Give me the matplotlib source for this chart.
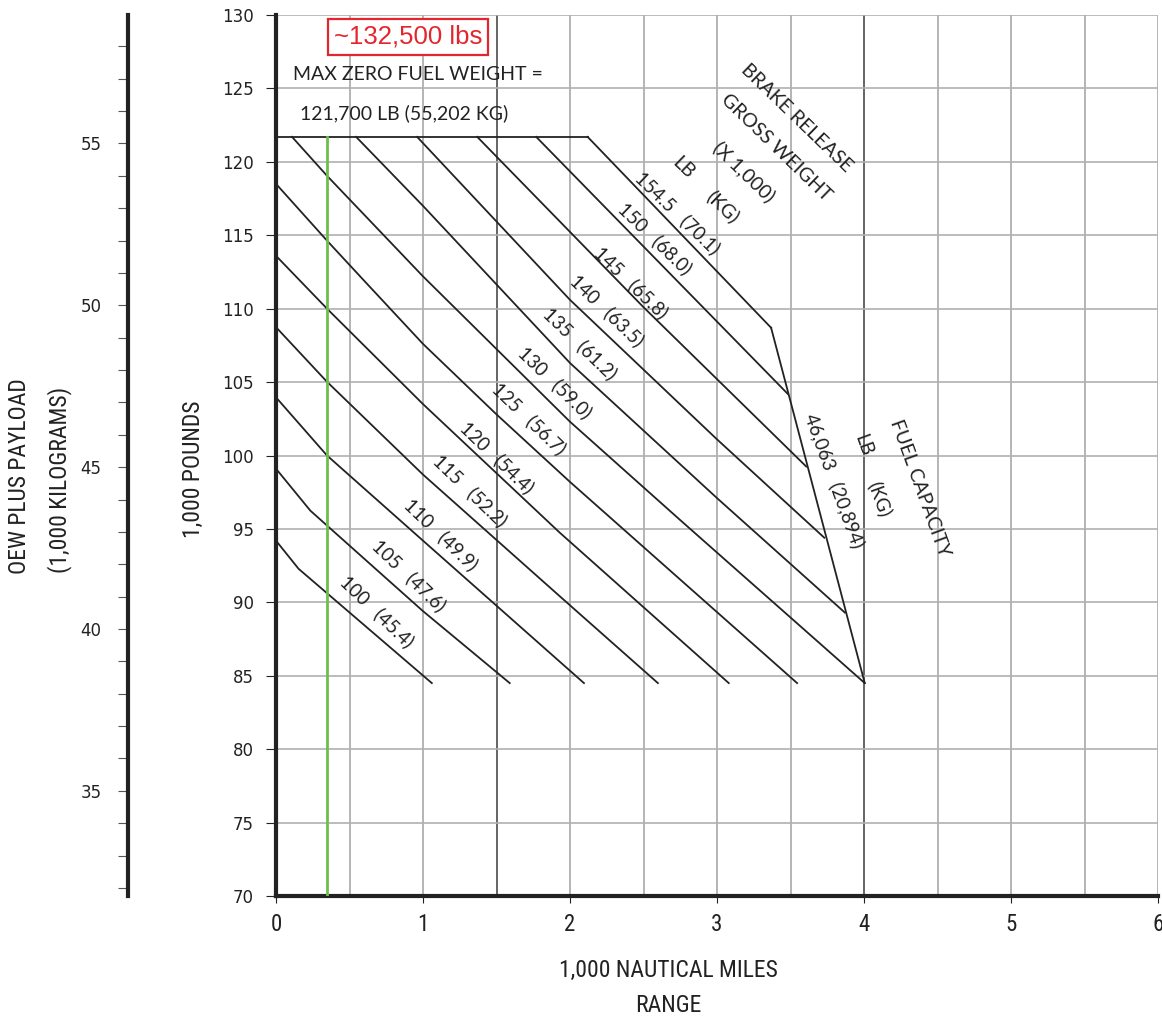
import matplotlib
matplotlib.use("Agg")
import matplotlib.pyplot as plt
from matplotlib import font_manager
from matplotlib.ticker import MultipleLocator

# brake release gross weight lines, 1,000 lb and (1,000 kg)
gw_lb = ["154.5", "150", "145", "140", "135", "130", "125", "120", "115", "110", "105", "100"]
gw_kg = ["(70.1)", "(68.0)", "(65.8)", "(63.5)", "(61.2)", "(59.0)", "(56.7)", "(54.4)",
         "(52.2)", "(49.9)", "(47.6)", "(45.4)"]

# points: range (1,000 nm) / OEW + payload (1,000 lb)
line_x = [
    [2.12, 3.368],
    [1.77, 3.481],
    [1.369, 2.5, 3.607],
    [0.96, 2.0, 3.0, 3.73],
    [0.545, 1.0, 2.0, 3.0, 3.87],
    [0.109, 0.347, 1.0, 2.0, 2.75, 4.005],
    [0.0, 0.35, 0.6, 1.0, 1.5, 2.0, 3.545],
    [0.0, 0.347, 1.0, 1.932, 3.08],
    [0.0, 0.347, 1.0, 1.932, 2.598],
    [0.0, 0.347, 1.0, 2.095],
    [0.0, 0.234, 1.0, 1.59],
    [0.0, 0.154, 1.06],
]
line_y = [
    [121.7, 108.7],
    [121.7, 104.2],
    [121.7, 110.1, 99.25],
    [121.7, 110.6, 101.1, 94.4],
    [121.7, 117.0, 106.3, 97.1, 89.3],
    [121.7, 119.05, 112.2, 102.3, 95.6, 84.5],
    [118.5, 114.6, 111.9, 107.6, 102.8, 98.2, 84.5],
    [113.6, 110.0, 103.5, 94.73, 84.5],
    [108.74, 105.02, 98.7, 90.4, 84.5],
    [103.96, 100.0, 94.2, 84.5],
    [99.1, 96.24, 89.4, 84.5],
    [94.2, 92.28, 84.5],
]

mzfw_x = [0.0, 2.12]
mzfw_y = [121.7, 121.7]
fuel_x = [3.368, 4.005]
fuel_y = [108.7, 84.5]
marker_range = 0.35

x_ticks = [0, 1, 2, 3, 4, 5, 6]
y_ticks = [70, 75, 80, 85, 90, 95, 100, 105, 110, 115, 120, 125, 130]
kg_ticks = [35, 40, 45, 50, 55]
LB_PER_KG = 2.20462

# pick a narrow face for the condensed captions if one is installed
installed = {f.name for f in font_manager.fontManager.ttflist}
narrow_font = "DejaVu Sans"
for cand in ["Liberation Sans Narrow", "Roboto Condensed", "Open Sans Condensed", "DejaVu Sans Condensed"]:
    if cand in installed:
        narrow_font = cand
        break
narrow = dict(family=narrow_font, stretch="condensed")

W, H = 1162, 1019
fig = plt.figure(figsize=(W / 100, H / 100), dpi=100)
ax = fig.add_axes([276 / W, 1 - 896 / H, 882 / W, 881 / H])
ax.set_xlim(0, 6)
ax.set_ylim(70, 130)

ink = "#222222"

# grid
for gx in [0.5 * i for i in range(1, 13)]:
    c = "#3a3a3a" if gx in (1.5, 4.0) else "#a0a0a0"
    ax.axvline(gx, color=c, lw=1.1, zorder=1)
for gy in y_ticks[1:]:
    ax.axhline(gy, color="#b0b0b0", lw=1.2, zorder=1)

# chart lines
ax.plot(mzfw_x, mzfw_y, color=ink, lw=1.3, zorder=3)
ax.plot(fuel_x, fuel_y, color=ink, lw=1.3, zorder=3)
for xs, ys in zip(line_x, line_y):
    ax.plot(xs, ys, color=ink, lw=1.3, zorder=3)
ax.plot([marker_range, marker_range], [70, mzfw_y[0]], color="#6cc04a", lw=2, zorder=4)

# line labels
lab_x = [2.735, 2.578, 2.415, 2.252, 2.068, 1.898, 1.721, 1.503, 1.320, 1.122, 0.905, 0.687]
lab_y = [116.5, 114.8, 111.75, 109.85, 107.65, 105.0, 102.55, 99.9, 97.6, 94.65, 91.85, 89.4]
for lb, kg, tx, ty in zip(gw_lb, gw_kg, lab_x, lab_y):
    ax.text(tx, ty, f"{lb}   {kg}", rotation=-44, ha="center", va="center",
            rotation_mode="anchor", fontsize=13.5, family="Lato", color=ink, zorder=5)

def px(x, y):
    return (x - 276) / 147, 70 + (896 - y) / 14.683

tkw = dict(family="Lato", color=ink, ha="center", va="center", rotation_mode="anchor")
ax.text(*px(797, 118), "BRAKE RELEASE", rotation=-44, fontsize=14, **tkw)
ax.text(*px(776, 148), "GROSS WEIGHT", rotation=-44, fontsize=14, **tkw)
ax.text(*px(744, 172), "(X 1,000)", rotation=-44, fontsize=14, **tkw)
ax.text(*px(683, 168), "LB", rotation=-44, fontsize=14, **tkw)
ax.text(*px(723, 207), "(KG)", rotation=-44, fontsize=14, **tkw)

ax.text(*px(835, 481), "46,063   (20,894)", rotation=-70, fontsize=13.5, **tkw)
ax.text(*px(863, 445), "LB", rotation=-70, fontsize=13.5, **tkw)
ax.text(*px(880, 499), "(KG)", rotation=-70, fontsize=13.5, **tkw)
ax.text(*px(920, 488), "FUEL CAPACITY", rotation=-70, fontsize=14, **tkw)

ax.text(*px(293, 75), "MAX ZERO FUEL WEIGHT =", ha="left", va="center",
        fontsize=14, family="Lato", color=ink)
ax.text(*px(300, 113), "121,700 LB (55,202 KG)", ha="left", va="center",
        fontsize=14, family="Lato", color=ink)
ax.text(*px(408, 37), "~132,500 lbs", ha="center", va="center", fontsize=18.5,
        family="Liberation Sans", color="#e3262d",
        bbox=dict(boxstyle="square,pad=0.22", fc="white", ec="#e3262d", lw=1.6))

# axes styling
for s in ["top", "right"]:
    ax.spines[s].set_visible(False)
for s in ["left", "bottom"]:
    ax.spines[s].set_linewidth(3)
    ax.spines[s].set_color(ink)
ax.set_xticks(x_ticks)
ax.set_yticks(y_ticks)
ax.tick_params(axis="y", length=7, width=0.8, pad=9, labelsize=12, colors=ink)
ax.tick_params(axis="x", length=5, width=0.8, pad=7, labelsize=16.5, colors=ink)
for t in ax.get_xticklabels():
    t.set_family(narrow_font)
    t.set_stretch("condensed")
for t in ax.get_yticklabels():
    t.set_family("DejaVu Sans")

fig.text(193 / W, 1 - 469 / H, "1,000 POUNDS", rotation=90, ha="center", va="center",
         fontsize=17, color=ink, **narrow)
fig.text(668 / W, 1 - 970 / H, "1,000 NAUTICAL MILES", ha="center", va="center",
         fontsize=17, color=ink, **narrow)
fig.text(668 / W, 1 - 1005 / H, "RANGE", ha="center", va="center",
         fontsize=17, color=ink, **narrow)
fig.text(20 / W, 1 - 476 / H, "OEW PLUS PAYLOAD", rotation=90, ha="center", va="center",
         fontsize=17, color=ink, **narrow)
fig.text(60 / W, 1 - 480 / H, "(1,000 KILOGRAMS)", rotation=90, ha="center", va="center",
         fontsize=17, color=ink, **narrow)

# kilogram scale on the far left
axk = fig.add_axes([128 / W, 1 - 896 / H, 0.0005, 881 / H])
axk.set_ylim(70 / LB_PER_KG, 130 / LB_PER_KG)
axk.patch.set_visible(False)
for s in ["top", "right", "bottom"]:
    axk.spines[s].set_visible(False)
axk.spines["left"].set_linewidth(3)
axk.spines["left"].set_color(ink)
axk.set_xticks([])
axk.set_yticks(kg_ticks)
axk.yaxis.set_minor_locator(MultipleLocator(1))
axk.tick_params(axis="y", which="both", length=7, width=0.8, colors="#555555")
axk.tick_params(axis="y", which="major", pad=12, labelsize=12, labelcolor=ink)

fig.savefig("out.png", dpi=100)
